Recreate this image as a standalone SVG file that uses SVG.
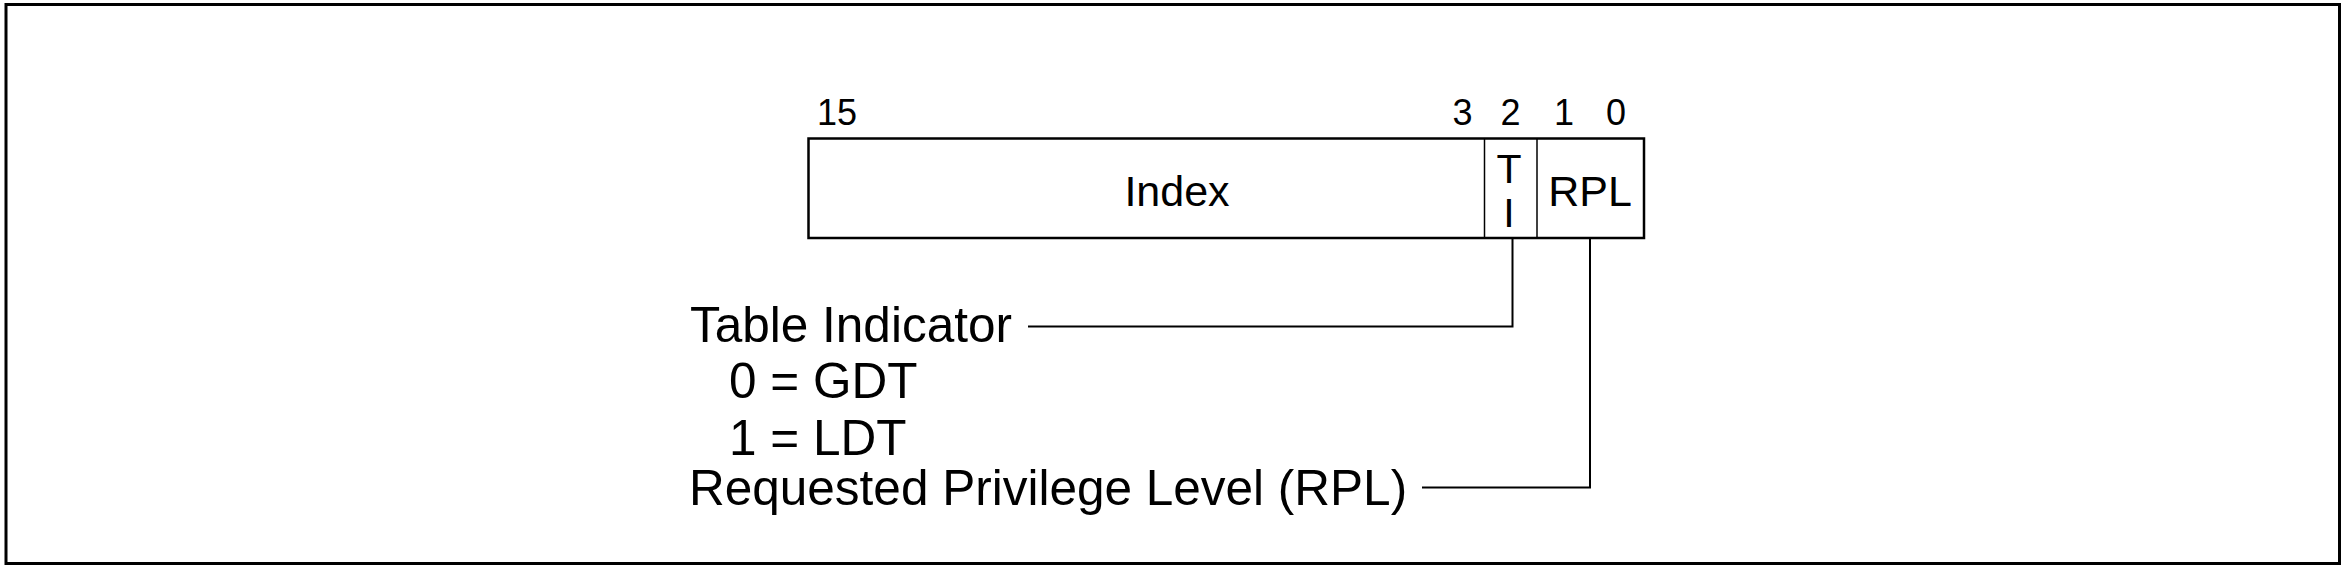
<svg xmlns="http://www.w3.org/2000/svg" width="2344" height="570" viewBox="0 0 2344 570">
<style>
text{font-family:"Liberation Sans",Arial,sans-serif;fill:#000}
.num{font-size:36px;text-anchor:middle}
.fld{font-size:43px;text-anchor:middle}
.lbl{font-size:49.5px}
.conn{fill:none;stroke:#000;stroke-width:2}
</style>
<rect x="6" y="4.5" width="2333.5" height="559" fill="#fff" stroke="#000" stroke-width="3"/>
<g id="bits">
<text class="num" x="837" y="125">15</text>
<text class="num" x="1462.5" y="125">3</text>
<text class="num" x="1510.5" y="125">2</text>
<text class="num" x="1564" y="125">1</text>
<text class="num" x="1616" y="125">0</text>
</g>
<g id="selector">
<rect x="808.5" y="138.5" width="835.5" height="99.5" fill="#fff" stroke="#000" stroke-width="2.5"/>
<line x1="1484.5" y1="138.5" x2="1484.5" y2="238" stroke="#000" stroke-width="1.5"/>
<line x1="1537" y1="138.5" x2="1537" y2="238" stroke="#000" stroke-width="1.5"/>
</g>
<g id="index"><text class="fld" x="1177" y="205.7">Index</text></g>
<g id="ti">
<text class="fld" style="font-size:41px" x="1509" y="183">T</text>
<text class="fld" style="font-size:41px" x="1509" y="226.7">I</text>
</g>
<g id="rpl"><text class="fld" x="1590" y="205.7">RPL</text></g>
<g id="ti-label">
<text class="lbl" x="690" y="341.7">Table Indicator</text>
<text class="lbl" x="729" y="397.5">0 = GDT</text>
<text class="lbl" x="729" y="455">1 = LDT</text>
</g>
<g id="rpl-label">
<text class="lbl" x="689" y="505">Requested Privilege Level (RPL)</text>
</g>
<g id="connectors">
<polyline class="conn" points="1512.5,238 1512.5,326.5 1028,326.5"/>
<polyline class="conn" points="1590,238 1590,487.5 1422,487.5"/>
</g>
</svg>
